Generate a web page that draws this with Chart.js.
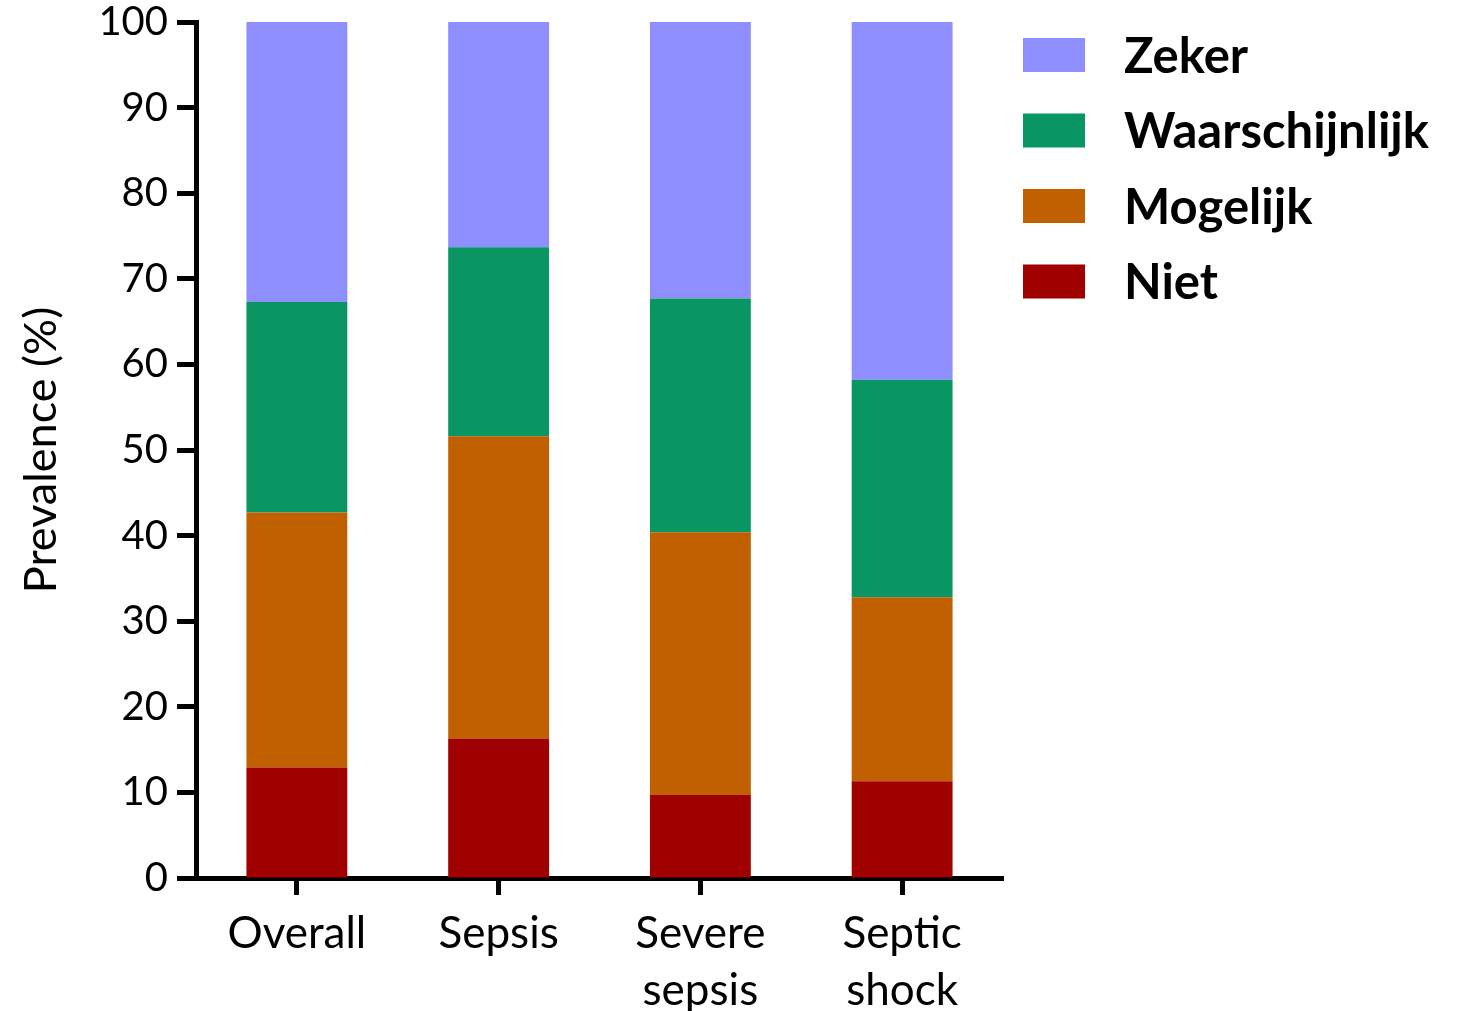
<!DOCTYPE html>
<html>
<head>
<meta charset="utf-8">
<script src="https://cdn.jsdelivr.net/npm/chart.js@4/dist/chart.umd.min.js"></script>
<style>
  html, body { margin: 0; padding: 0; background: #fff; }
  #wrap { width: 1463px; height: 1011px; }
</style>
</head>
<body>
<div id="wrap"><canvas id="chart" width="1463" height="1011"></canvas></div>
<script>
const categories = ['Overall', 'Sepsis', ['Severe', 'sepsis'], ['Septic', 'shock']];
const niet = [12.9, 16.3, 9.7, 11.3];
const mogelijk = [29.8, 35.3, 30.7, 21.5];
const waarschijnlijk = [24.6, 22.1, 27.3, 25.4];
const zeker = [32.7, 26.3, 32.3, 41.8];
const yTicks = [0, 10, 20, 30, 40, 50, 60, 70, 80, 90, 100];

const FONT = 'Lato, "Open Sans", sans-serif';

// legend drawn by hand so the plot area keeps its size
const sideLegend = {
  id: 'sideLegend',
  afterDraw(chart) {
    const ctx = chart.ctx;
    const sets = chart.data.datasets.slice().reverse();
    ctx.save();
    ctx.font = 'bold 49px ' + FONT;
    ctx.textBaseline = 'middle';
    ctx.textAlign = 'left';
    sets.forEach((ds, i) => {
      const y = 38 + i * 75.5;
      ctx.fillStyle = ds.backgroundColor;
      ctx.fillRect(1023, y, 62, 34);
      ctx.fillStyle = '#000';
      ctx.fillText(ds.label, 1124, y + 19);
    });
    ctx.restore();
  },
};

new Chart(document.getElementById('chart'), {
  type: 'bar',
  data: {
    labels: categories,
    datasets: [
      { label: 'Niet', data: niet, backgroundColor: '#a00000' },
      { label: 'Mogelijk', data: mogelijk, backgroundColor: '#c06000' },
      { label: 'Waarschijnlijk', data: waarschijnlijk, backgroundColor: '#0a9662' },
      { label: 'Zeker', data: zeker, backgroundColor: '#8e8eff' },
    ],
  },
  options: {
    responsive: false,
    animation: false,
    barPercentage: 0.5,
    categoryPercentage: 1,
    layout: { padding: { top: 22, right: 460, left: 0, bottom: 0 } },
    plugins: {
      legend: { display: false },
      tooltip: { enabled: false },
    },
    scales: {
      x: {
        stacked: true,
        afterFit: (scale) => { scale.height = 133; },
        border: { display: true, color: '#000', width: 5 },
        grid: {
          offset: false,
          drawOnChartArea: false,
          drawTicks: true,
          tickLength: 17,
          tickWidth: 5,
          tickColor: '#000',
        },
        ticks: {
          color: '#000',
          padding: 10,
          maxRotation: 0,
          font: { family: FONT, size: 44, lineHeight: 1.3 },
        },
      },
      y: {
        stacked: true,
        min: 0,
        max: 100,
        afterFit: (scale) => {
          scale.width = 196;
          scale.paddingTop = 0;
          scale.paddingBottom = 0;
        },
        afterBuildTicks: (scale) => { scale.ticks = yTicks.map((v) => ({ value: v })); },
        border: { display: true, color: '#000', width: 5 },
        grid: {
          drawOnChartArea: false,
          drawTicks: true,
          tickLength: 19,
          tickWidth: 5,
          tickColor: '#000',
        },
        ticks: {
          color: '#000',
          padding: 9,
          font: { family: FONT, size: 40 },
        },
        title: {
          display: true,
          text: 'Prevalence (%)',
          color: '#000',
          padding: { top: 14, bottom: 0 },
          font: { family: FONT, size: 45 },
        },
      },
    },
  },
  plugins: [sideLegend],
});
</script>
</body>
</html>
